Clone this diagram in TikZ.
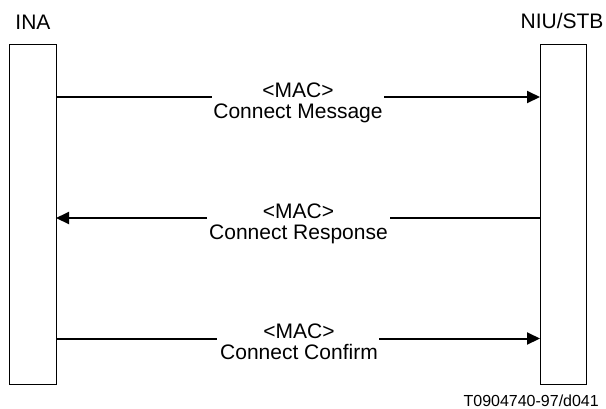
\documentclass[tikz,border=0pt]{standalone}
\usepackage{fontspec}
\setmainfont{Liberation Sans}
\usetikzlibrary{arrows.meta}
\begin{document}
\begin{tikzpicture}[x=1bp,y=-1bp,
  box/.style={draw,line width=1bp,minimum width=46bp,minimum height=340bp,inner sep=0pt,outer sep=0pt},
  lbl/.style={anchor=base,inner sep=0pt,font=\fontsize{21bp}{24bp}\selectfont},
  foot/.style={anchor=base east,inner sep=0pt,font=\fontsize{16bp}{18bp}\selectfont},
  msg/.style={line width=2bp},
  msgarrow/.style={line width=2bp,-{Triangle[length=13bp,width=12bp]}}]
\useasboundingbox (0,0) rectangle (606,408);
% lifeline boxes
\node[box] (ina) at (33,214) {};
\node[box] (niu) at (563,214) {};
% titles
\node[lbl] (inat) at (33,29) {INA};
\node[lbl] (niut) at (562,28) {NIU/STB};
% gap coordinates
\coordinate (g1l) at (212,97);  \coordinate (g1r) at (384,97);
\coordinate (g2l) at (207,218); \coordinate (g2r) at (390,218);
\coordinate (g3l) at (217,338.5); \coordinate (g3r) at (379,338.5);
% message 1
\draw[msg] (ina.east |- g1l) -- (g1l);
\draw[msgarrow] (g1r) -- (niu.west |- g1r);
\node[lbl] (m1a) at (298,97) {<MAC>};
\node[lbl] (m1b) at (298,118.7) {Connect Message};
% message 2
\draw[msg] (niu.west |- g2r) -- (g2r);
\draw[msgarrow] (g2l) -- (ina.east |- g2l);
\node[lbl] (m2a) at (298.5,218) {<MAC>};
\node[lbl] (m2b) at (298.5,239.5) {Connect Response};
% message 3
\draw[msg] (ina.east |- g3l) -- (g3l);
\draw[msgarrow] (g3r) -- (niu.west |- g3r);
\node[lbl] (m3a) at (299,338) {<MAC>};
\node[lbl] (m3b) at (299,359.5) {Connect Confirm};
% footer
\node[foot] (ft) at (599,406) {T0904740-97/d041};
\end{tikzpicture}
\end{document}
